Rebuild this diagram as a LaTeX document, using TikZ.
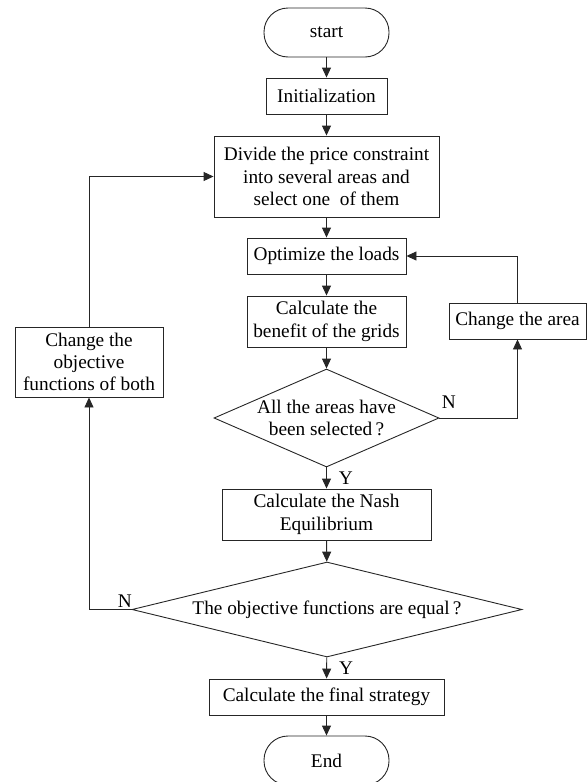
\documentclass[tikz,border=0pt]{standalone}
\usepackage{fontspec}
\setmainfont{Liberation Serif}
\usepackage{tikz}
\usetikzlibrary{arrows.meta,shapes.geometric}
\tikzset{
  box/.style={draw=black!85, line width=0.9pt, rectangle, align=center, inner sep=0pt},
  term/.style={draw=black!85, line width=0.9pt, rectangle, rounded corners=24pt,
    minimum width=125pt, minimum height=49pt, inner sep=0pt},
  decision/.style={draw=black!85, line width=0.9pt, diamond, align=center, inner sep=0pt},
  flow/.style={draw=black!85, line width=0.9pt, -{Triangle[length=10pt,width=9pt]}},
  yn/.style={inner sep=2pt}
}

\begin{document}
\begin{tikzpicture}[x=1pt,y=-1pt,font=\fontsize{19.3pt}{22.3pt}\selectfont]
            \useasboundingbox (0,0) rectangle (587,782);
            % main column
            \node[term] (start) at (326.5,32.5) {start};
            \node[box, minimum width=121pt, minimum height=36pt] (init) at (326.5,96) {Initialization};
            \node[box, minimum width=225pt, minimum height=81pt] (divide) at (326.5,176.5) {Divide the price constraint\\into several areas and\\select one\ \ of them};
            \node[box, minimum width=159pt, minimum height=36pt] (opt) at (326.5,256) {Optimize the loads};
            \node[box, minimum width=159pt, minimum height=51pt] (calc) at (326.5,321.5) {Calculate the\\benefit of the grids};
            \node[decision, aspect=2.35, minimum width=225pt, minimum height=98pt] (dec1) at (326.5,418) {All the areas have\\been selected\,?};
            \node[box, minimum width=209pt, minimum height=51pt] (nash) at (326.5,514.5) {Calculate the Nash\\Equilibrium};
            \node[decision, aspect=4.1, minimum width=390pt, minimum height=95pt] (dec2) at (327,609.5) {The objective functions are equal\,?};
            \node[box, minimum width=235pt, minimum height=36pt] (final) at (326.5,697) {Calculate the final strategy};
            \node[term] (end) at (326.5,760.5) {End};
            
            % side boxes
            \node[box, minimum width=137pt, minimum height=36pt] (area) at (517.5,321) {Change the area};
            \node[box, minimum width=148pt, minimum height=70pt] (obj) at (89,362) {Change the\\objective\\functions of both};
            
            % straight arrows
            \draw[flow] (start) -- (init);
            \draw[flow] (init) -- (divide);
            \draw[flow] (divide) -- (opt);
            \draw[flow] (opt) -- (calc);
            \draw[flow] (calc) -- (dec1);
            \draw[flow] (dec1) -- node[yn, right, xshift=10pt]{Y} (nash);
            \draw[flow] (nash) -- (dec2);
            \draw[flow] (dec2) -- node[yn, right, xshift=10pt]{Y} (final);
            \draw[flow] (final) -- (end);
            
            % loops back
            \draw[flow] (dec1.east) -| node[yn, pos=0.06, above, yshift=7pt]{N} (area.south);
            \draw[flow] (area.north) |- (opt.east);
            \draw[flow] (dec2.west) -| node[yn, pos=0.08, above]{N} (obj.south);
            \draw[flow] (obj.north) |- (divide.west);
\end{tikzpicture}
\end{document}
